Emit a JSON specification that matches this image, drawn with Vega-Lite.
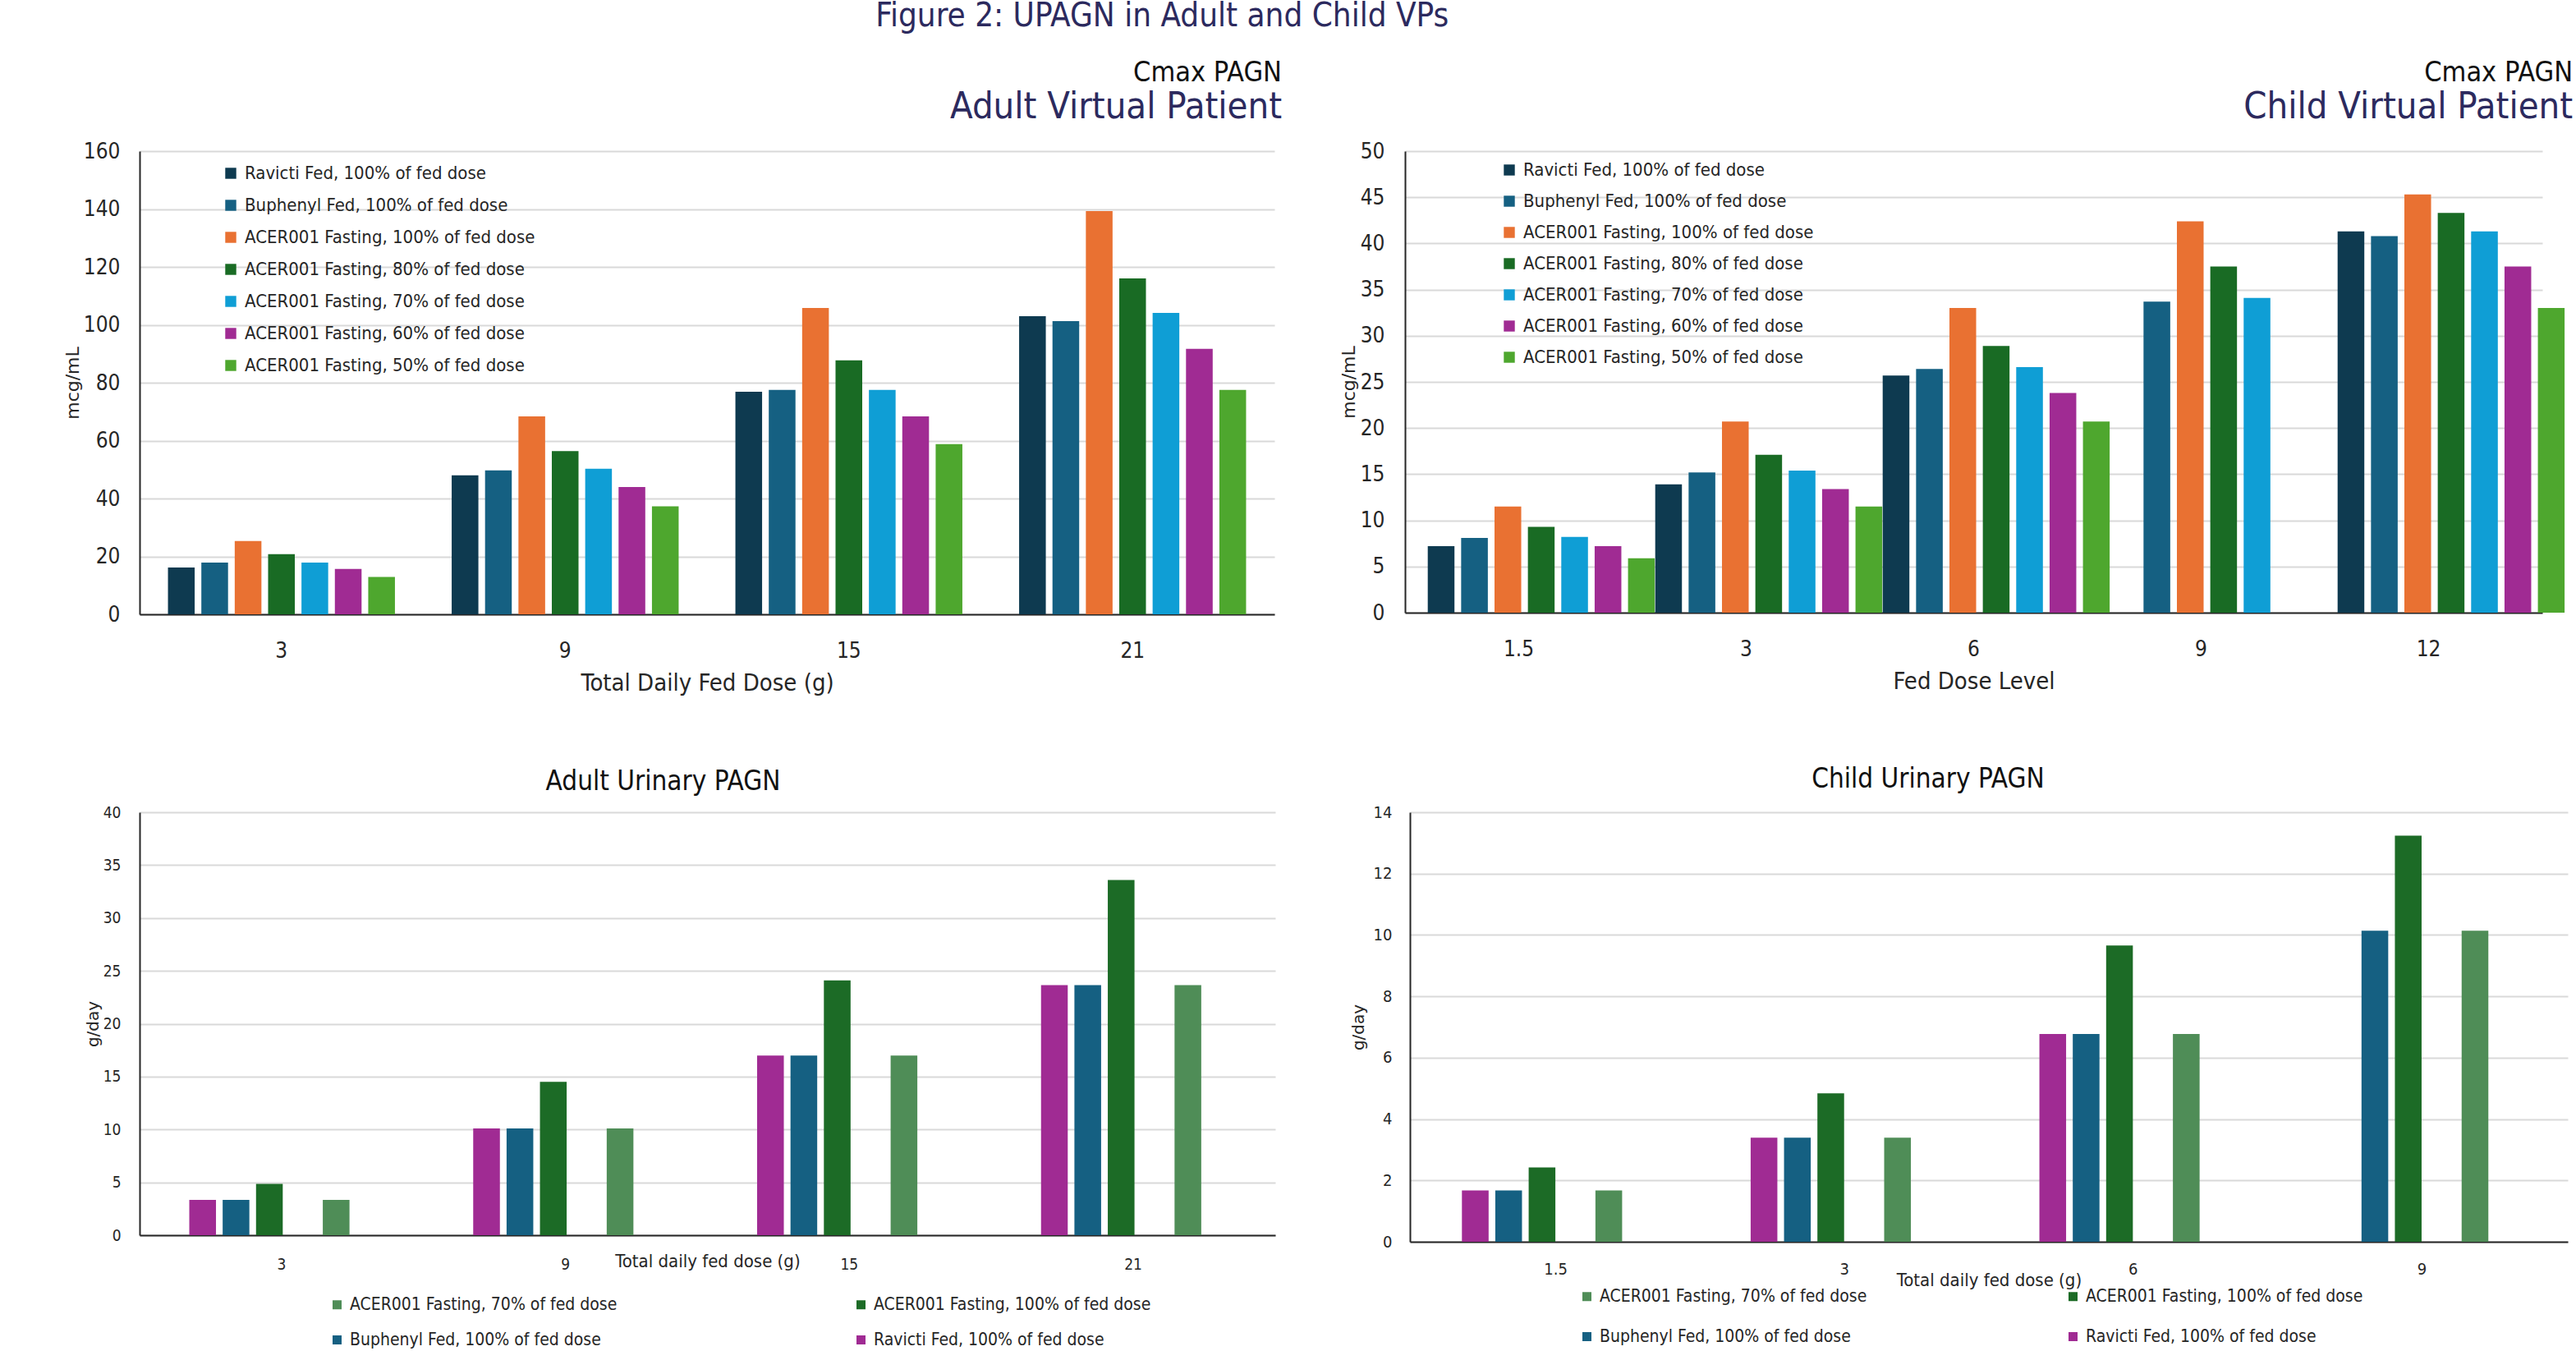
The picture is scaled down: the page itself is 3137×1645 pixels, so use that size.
{
  "$schema": "https://vega.github.io/schema/vega-lite/v6.json",
  "background": "white",
  "padding": {"left": 77, "top": 0, "right": 0, "bottom": 0},
  "title": {"text": "Figure 2: UPAGN in Adult and Child VPs", "fontSize": 40, "color": "#2c2a5e", "fontWeight": "normal", "anchor": "middle", "offset": 32, "dx": -190},
  "vconcat": [
    {
      "spacing": 70,
      "resolve": {"scale": {"color": "independent"}, "legend": {"color": "independent"}},
      "hconcat": [
        {
          "width": 1382,
          "height": 564,
          "title": {"text": "Cmax PAGN", "subtitle": "Adult Virtual Patient", "anchor": "end", "fontSize": 34, "fontWeight": "normal", "color": "#111111", "subtitleFontSize": 45, "subtitleColor": "#2c2a5e", "subtitlePadding": 2, "offset": 18, "dx": 9},
          "data": {"values": [
            {"dose": "3", "series": "Ravicti Fed, 100% of fed dose", "value": 16.2},
            {"dose": "3", "series": "Buphenyl Fed, 100% of fed dose", "value": 17.9},
            {"dose": "3", "series": "ACER001 Fasting, 100% of fed dose", "value": 25.3},
            {"dose": "3", "series": "ACER001 Fasting, 80% of fed dose", "value": 20.8},
            {"dose": "3", "series": "ACER001 Fasting, 70% of fed dose", "value": 17.9},
            {"dose": "3", "series": "ACER001 Fasting, 60% of fed dose", "value": 15.7},
            {"dose": "3", "series": "ACER001 Fasting, 50% of fed dose", "value": 12.9},
            {"dose": "9", "series": "Ravicti Fed, 100% of fed dose", "value": 48.0},
            {"dose": "9", "series": "Buphenyl Fed, 100% of fed dose", "value": 49.7},
            {"dose": "9", "series": "ACER001 Fasting, 100% of fed dose", "value": 68.4},
            {"dose": "9", "series": "ACER001 Fasting, 80% of fed dose", "value": 56.4},
            {"dose": "9", "series": "ACER001 Fasting, 70% of fed dose", "value": 50.3},
            {"dose": "9", "series": "ACER001 Fasting, 60% of fed dose", "value": 44.0},
            {"dose": "9", "series": "ACER001 Fasting, 50% of fed dose", "value": 37.3},
            {"dose": "15", "series": "Ravicti Fed, 100% of fed dose", "value": 76.9},
            {"dose": "15", "series": "Buphenyl Fed, 100% of fed dose", "value": 77.5},
            {"dose": "15", "series": "ACER001 Fasting, 100% of fed dose", "value": 105.8},
            {"dose": "15", "series": "ACER001 Fasting, 80% of fed dose", "value": 87.7},
            {"dose": "15", "series": "ACER001 Fasting, 70% of fed dose", "value": 77.5},
            {"dose": "15", "series": "ACER001 Fasting, 60% of fed dose", "value": 68.4},
            {"dose": "15", "series": "ACER001 Fasting, 50% of fed dose", "value": 58.8},
            {"dose": "21", "series": "Ravicti Fed, 100% of fed dose", "value": 103.0},
            {"dose": "21", "series": "Buphenyl Fed, 100% of fed dose", "value": 101.3},
            {"dose": "21", "series": "ACER001 Fasting, 100% of fed dose", "value": 139.3},
            {"dose": "21", "series": "ACER001 Fasting, 80% of fed dose", "value": 116.0},
            {"dose": "21", "series": "ACER001 Fasting, 70% of fed dose", "value": 104.1},
            {"dose": "21", "series": "ACER001 Fasting, 60% of fed dose", "value": 91.7},
            {"dose": "21", "series": "ACER001 Fasting, 50% of fed dose", "value": 77.5}
          ]},
          "mark": {"type": "bar"},
          "encoding": {
            "x": {"field": "dose", "type": "ordinal", "sort": ["3", "9", "15", "21"], "scale": {"paddingInner": 0.2, "paddingOuter": 0.1},
              "axis": {"title": "Total Daily Fed Dose (g)", "labelAngle": 0, "labelFontSize": 26, "labelPadding": 31, "titleFontSize": 29, "titlePadding": 12}},
            "xOffset": {"field": "series", "type": "nominal", "scale": {"domain": ["Ravicti Fed, 100% of fed dose", "Buphenyl Fed, 100% of fed dose", "ACER001 Fasting, 100% of fed dose", "ACER001 Fasting, 80% of fed dose", "ACER001 Fasting, 70% of fed dose", "ACER001 Fasting, 60% of fed dose", "ACER001 Fasting, 50% of fed dose"], "paddingInner": 0.2, "paddingOuter": 0}},
            "y": {"field": "value", "type": "quantitative", "scale": {"domain": [0, 160], "nice": false},
              "axis": {"title": "mcg/mL", "values": [0, 20, 40, 60, 80, 100, 120, 140, 160], "labelFontSize": 26, "labelPadding": 24, "titleFont": "DejaVu Sans", "titleFontSize": 22, "titlePadding": 1}},
            "color": {"field": "series", "type": "nominal", "sort": ["Ravicti Fed, 100% of fed dose", "Buphenyl Fed, 100% of fed dose", "ACER001 Fasting, 100% of fed dose", "ACER001 Fasting, 80% of fed dose", "ACER001 Fasting, 70% of fed dose", "ACER001 Fasting, 60% of fed dose", "ACER001 Fasting, 50% of fed dose"],
              "scale": {"range": ["#0e3a50", "#156082", "#e97132", "#196b24", "#0f9ed5", "#a02b93", "#4ea72e"]},
              "legend": {"orient": "none", "legendX": 100, "legendY": 16, "title": null, "labelFontSize": 22, "symbolType": "square", "symbolSize": 180, "rowPadding": 17, "labelOffset": 6, "padding": 0}}
          }
        },
        {
          "width": 1385,
          "height": 562,
          "title": {"text": "Cmax PAGN", "subtitle": "Child Virtual Patient", "anchor": "end", "fontSize": 34, "fontWeight": "normal", "color": "#111111", "subtitleFontSize": 45, "subtitleColor": "#2c2a5e", "subtitlePadding": 2, "offset": 18, "dx": 10},
          "data": {"values": [
            {"dose": "1.5", "series": "Ravicti Fed, 100% of fed dose", "value": 7.2},
            {"dose": "1.5", "series": "Buphenyl Fed, 100% of fed dose", "value": 8.1},
            {"dose": "1.5", "series": "ACER001 Fasting, 100% of fed dose", "value": 11.5},
            {"dose": "1.5", "series": "ACER001 Fasting, 80% of fed dose", "value": 9.3},
            {"dose": "1.5", "series": "ACER001 Fasting, 70% of fed dose", "value": 8.2},
            {"dose": "1.5", "series": "ACER001 Fasting, 60% of fed dose", "value": 7.2},
            {"dose": "1.5", "series": "ACER001 Fasting, 50% of fed dose", "value": 5.9},
            {"dose": "3", "series": "Ravicti Fed, 100% of fed dose", "value": 13.9},
            {"dose": "3", "series": "Buphenyl Fed, 100% of fed dose", "value": 15.2},
            {"dose": "3", "series": "ACER001 Fasting, 100% of fed dose", "value": 20.7},
            {"dose": "3", "series": "ACER001 Fasting, 80% of fed dose", "value": 17.1},
            {"dose": "3", "series": "ACER001 Fasting, 70% of fed dose", "value": 15.4},
            {"dose": "3", "series": "ACER001 Fasting, 60% of fed dose", "value": 13.4},
            {"dose": "3", "series": "ACER001 Fasting, 50% of fed dose", "value": 11.5},
            {"dose": "6", "series": "Ravicti Fed, 100% of fed dose", "value": 25.7},
            {"dose": "6", "series": "Buphenyl Fed, 100% of fed dose", "value": 26.4},
            {"dose": "6", "series": "ACER001 Fasting, 100% of fed dose", "value": 33.0},
            {"dose": "6", "series": "ACER001 Fasting, 80% of fed dose", "value": 28.9},
            {"dose": "6", "series": "ACER001 Fasting, 70% of fed dose", "value": 26.6},
            {"dose": "6", "series": "ACER001 Fasting, 60% of fed dose", "value": 23.8},
            {"dose": "6", "series": "ACER001 Fasting, 50% of fed dose", "value": 20.7},
            {"dose": "9", "series": "Buphenyl Fed, 100% of fed dose", "value": 33.7},
            {"dose": "9", "series": "ACER001 Fasting, 100% of fed dose", "value": 42.4},
            {"dose": "9", "series": "ACER001 Fasting, 80% of fed dose", "value": 37.5},
            {"dose": "9", "series": "ACER001 Fasting, 70% of fed dose", "value": 34.1},
            {"dose": "12", "series": "Ravicti Fed, 100% of fed dose", "value": 41.3},
            {"dose": "12", "series": "Buphenyl Fed, 100% of fed dose", "value": 40.8},
            {"dose": "12", "series": "ACER001 Fasting, 100% of fed dose", "value": 45.3},
            {"dose": "12", "series": "ACER001 Fasting, 80% of fed dose", "value": 43.3},
            {"dose": "12", "series": "ACER001 Fasting, 70% of fed dose", "value": 41.3},
            {"dose": "12", "series": "ACER001 Fasting, 60% of fed dose", "value": 37.5},
            {"dose": "12", "series": "ACER001 Fasting, 50% of fed dose", "value": 33.0}
          ]},
          "mark": {"type": "bar"},
          "encoding": {
            "x": {"field": "dose", "type": "ordinal", "sort": ["1.5", "3", "6", "9", "12"], "scale": {"paddingInner": 0.2, "paddingOuter": 0.1},
              "axis": {"title": "Fed Dose Level", "labelAngle": 0, "labelFontSize": 26, "labelPadding": 31, "titleFontSize": 29, "titlePadding": 12}},
            "xOffset": {"field": "series", "type": "nominal", "scale": {"domain": ["Ravicti Fed, 100% of fed dose", "Buphenyl Fed, 100% of fed dose", "ACER001 Fasting, 100% of fed dose", "ACER001 Fasting, 80% of fed dose", "ACER001 Fasting, 70% of fed dose", "ACER001 Fasting, 60% of fed dose", "ACER001 Fasting, 50% of fed dose"], "paddingInner": 0.2, "paddingOuter": 0}},
            "y": {"field": "value", "type": "quantitative", "scale": {"domain": [0, 50], "nice": false},
              "axis": {"title": "mcg/mL", "values": [0, 5, 10, 15, 20, 25, 30, 35, 40, 45, 50], "labelFontSize": 26, "labelPadding": 25, "titleFont": "DejaVu Sans", "titleFontSize": 22, "titlePadding": 2}},
            "color": {"field": "series", "type": "nominal", "sort": ["Ravicti Fed, 100% of fed dose", "Buphenyl Fed, 100% of fed dose", "ACER001 Fasting, 100% of fed dose", "ACER001 Fasting, 80% of fed dose", "ACER001 Fasting, 70% of fed dose", "ACER001 Fasting, 60% of fed dose", "ACER001 Fasting, 50% of fed dose"],
              "scale": {"range": ["#0e3a50", "#156082", "#e97132", "#196b24", "#0f9ed5", "#a02b93", "#4ea72e"]},
              "legend": {"orient": "none", "legendX": 116, "legendY": 12, "title": null, "labelFontSize": 22, "symbolType": "square", "symbolSize": 180, "rowPadding": 16, "labelOffset": 6, "padding": 0}}
          }
        }
      ]
    },
    {
      "spacing": 91,
      "resolve": {"scale": {"color": "independent"}, "legend": {"color": "independent"}},
      "hconcat": [
        {
          "width": 1383,
          "height": 515,
          "title": {"text": "Adult Urinary PAGN", "anchor": "middle", "fontSize": 33, "fontWeight": "normal", "color": "#111111", "offset": 11, "dx": -54},
          "data": {"values": [
            {"dose": "3", "series": "ACER001 Fasting, 70% of fed dose", "value": 3.34},
            {"dose": "3", "series": "ACER001 Fasting, 100% of fed dose", "value": 4.85},
            {"dose": "3", "series": "Buphenyl Fed, 100% of fed dose", "value": 3.34},
            {"dose": "3", "series": "Ravicti Fed, 100% of fed dose", "value": 3.34},
            {"dose": "9", "series": "ACER001 Fasting, 70% of fed dose", "value": 10.1},
            {"dose": "9", "series": "ACER001 Fasting, 100% of fed dose", "value": 14.5},
            {"dose": "9", "series": "Buphenyl Fed, 100% of fed dose", "value": 10.1},
            {"dose": "9", "series": "Ravicti Fed, 100% of fed dose", "value": 10.1},
            {"dose": "15", "series": "ACER001 Fasting, 70% of fed dose", "value": 17.0},
            {"dose": "15", "series": "ACER001 Fasting, 100% of fed dose", "value": 24.1},
            {"dose": "15", "series": "Buphenyl Fed, 100% of fed dose", "value": 17.0},
            {"dose": "15", "series": "Ravicti Fed, 100% of fed dose", "value": 17.0},
            {"dose": "21", "series": "ACER001 Fasting, 70% of fed dose", "value": 23.65},
            {"dose": "21", "series": "ACER001 Fasting, 100% of fed dose", "value": 33.6},
            {"dose": "21", "series": "Buphenyl Fed, 100% of fed dose", "value": 23.65},
            {"dose": "21", "series": "Ravicti Fed, 100% of fed dose", "value": 23.65}
          ]},
          "mark": {"type": "bar"},
          "encoding": {
            "x": {"field": "dose", "type": "ordinal", "sort": ["3", "9", "15", "21"], "scale": {"paddingInner": 0.35, "paddingOuter": 0.175},
              "axis": {"title": "Total daily fed dose (g)", "labelAngle": 0, "labelFontSize": 19, "labelPadding": 26, "titleFontSize": 22, "titlePadding": -24}},
            "xOffset": {"field": "series", "type": "nominal", "scale": {"domain": ["ACER001 Fasting, 70% of fed dose", "ACER001 Fasting, 100% of fed dose", "Buphenyl Fed, 100% of fed dose", "Ravicti Fed, 100% of fed dose"], "paddingInner": 0, "paddingOuter": 0}},
            "y": {"field": "value", "type": "quantitative", "scale": {"domain": [0, 40], "nice": false},
              "axis": {"title": "g/day", "values": [0, 5, 10, 15, 20, 25, 30, 35, 40], "labelFontSize": 19, "labelPadding": 23, "titleFont": "DejaVu Sans", "titleFontSize": 20, "titlePadding": 2}},
            "color": {"field": "series", "type": "nominal", "sort": ["ACER001 Fasting, 70% of fed dose", "Buphenyl Fed, 100% of fed dose", "ACER001 Fasting, 100% of fed dose", "Ravicti Fed, 100% of fed dose"],
              "scale": {"range": ["#4f8d57", "#156082", "#1c6b26", "#a02b93"]},
              "legend": {"orient": "none", "legendX": 230, "legendY": 589, "columns": 2, "columnPadding": 286, "title": null, "labelFontSize": 21, "symbolType": "square", "symbolSize": 121, "rowPadding": 21, "labelOffset": 5, "padding": 0}}
          }
        },
        {
          "width": 1410,
          "height": 523,
          "title": {"text": "Child Urinary PAGN", "anchor": "middle", "fontSize": 33, "fontWeight": "normal", "color": "#111111", "offset": 13, "dx": -74},
          "data": {"values": [
            {"dose": "1.5", "series": "ACER001 Fasting, 70% of fed dose", "value": 1.67},
            {"dose": "1.5", "series": "ACER001 Fasting, 100% of fed dose", "value": 2.42},
            {"dose": "1.5", "series": "Buphenyl Fed, 100% of fed dose", "value": 1.67},
            {"dose": "1.5", "series": "Ravicti Fed, 100% of fed dose", "value": 1.67},
            {"dose": "3", "series": "ACER001 Fasting, 70% of fed dose", "value": 3.39},
            {"dose": "3", "series": "ACER001 Fasting, 100% of fed dose", "value": 4.84},
            {"dose": "3", "series": "Buphenyl Fed, 100% of fed dose", "value": 3.39},
            {"dose": "3", "series": "Ravicti Fed, 100% of fed dose", "value": 3.39},
            {"dose": "6", "series": "ACER001 Fasting, 70% of fed dose", "value": 6.77},
            {"dose": "6", "series": "ACER001 Fasting, 100% of fed dose", "value": 9.66},
            {"dose": "6", "series": "Buphenyl Fed, 100% of fed dose", "value": 6.77},
            {"dose": "6", "series": "Ravicti Fed, 100% of fed dose", "value": 6.77},
            {"dose": "9", "series": "ACER001 Fasting, 70% of fed dose", "value": 10.14},
            {"dose": "9", "series": "ACER001 Fasting, 100% of fed dose", "value": 13.24},
            {"dose": "9", "series": "Buphenyl Fed, 100% of fed dose", "value": 10.14}
          ]},
          "mark": {"type": "bar"},
          "encoding": {
            "x": {"field": "dose", "type": "ordinal", "sort": ["1.5", "3", "6", "9"], "scale": {"paddingInner": 0.35, "paddingOuter": 0.18},
              "axis": {"title": "Total daily fed dose (g)", "labelAngle": 0, "labelFontSize": 20, "labelPadding": 23, "titleFontSize": 22, "titlePadding": -7}},
            "xOffset": {"field": "series", "type": "nominal", "scale": {"domain": ["ACER001 Fasting, 70% of fed dose", "ACER001 Fasting, 100% of fed dose", "Buphenyl Fed, 100% of fed dose", "Ravicti Fed, 100% of fed dose"], "paddingInner": 0, "paddingOuter": 0}},
            "y": {"field": "value", "type": "quantitative", "scale": {"domain": [0, 14], "nice": false},
              "axis": {"title": "g/day", "values": [0, 2, 4, 6, 8, 10, 12, 14], "labelFontSize": 20, "labelPadding": 22, "titleFont": "DejaVu Sans", "titleFontSize": 20, "titlePadding": 8}},
            "color": {"field": "series", "type": "nominal", "sort": ["ACER001 Fasting, 70% of fed dose", "Buphenyl Fed, 100% of fed dose", "ACER001 Fasting, 100% of fed dose", "Ravicti Fed, 100% of fed dose"],
              "scale": {"range": ["#4f8d57", "#156082", "#1c6b26", "#a02b93"]},
              "legend": {"orient": "none", "legendX": 205, "legendY": 579, "columns": 2, "columnPadding": 240, "title": null, "labelFontSize": 21, "symbolType": "square", "symbolSize": 121, "rowPadding": 27, "labelOffset": 5, "padding": 0}}
          }
        }
      ]
    }
  ],
  "spacing": 87,
  "resolve": {"scale": {"color": "independent"}, "legend": {"color": "independent"}},
  "config": {
    "font": "DejaVu Sans Condensed, sans-serif",
    "view": {"stroke": null},
    "axis": {"labelColor": "#262626", "titleColor": "#262626", "titleFontWeight": "normal", "ticks": false, "tickSize": 0, "domainColor": "#262626", "domainWidth": 2, "gridColor": "#d9d9d9", "gridWidth": 2},
    "legend": {"labelColor": "#262626", "symbolStrokeWidth": 0, "labelLimit": 600}
  }
}
